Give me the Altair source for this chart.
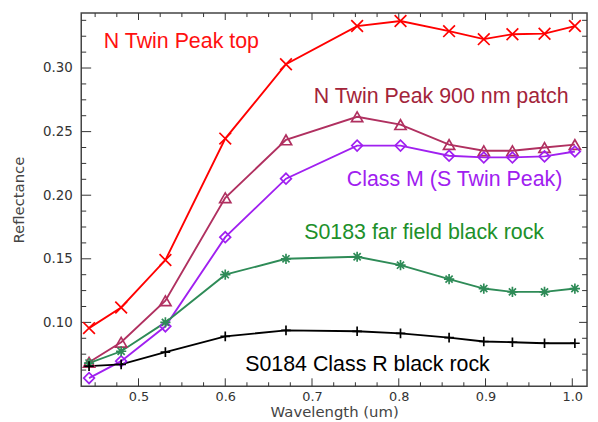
import altair as alt
import pandas as pd

# ---- data ----
wavelength = [0.443, 0.480, 0.531, 0.600, 0.670, 0.752, 0.802, 0.858, 0.898, 0.931, 0.968, 1.003]
n_top   = [0.0955, 0.1117, 0.1490, 0.2445, 0.3030, 0.3330, 0.3370, 0.3290, 0.3227, 0.3266, 0.3270, 0.3330]
patch   = [0.0687, 0.0844, 0.1170, 0.1980, 0.2435, 0.2617, 0.2555, 0.2398, 0.2350, 0.2350, 0.2375, 0.2398]
class_m = [0.0562, 0.0695, 0.0969, 0.1670, 0.2130, 0.2390, 0.2390, 0.2310, 0.2297, 0.2297, 0.2305, 0.2344]
s0183   = [0.0680, 0.0773, 0.1000, 0.1375, 0.1500, 0.1516, 0.1450, 0.1340, 0.1266, 0.1240, 0.1240, 0.1266]
s0184   = [0.0656, 0.0670, 0.0766, 0.0890, 0.0937, 0.0930, 0.0914, 0.0880, 0.0850, 0.0844, 0.0836, 0.0836]

series = ["N Twin Peak top", "N Twin Peak 900 nm patch", "Class M (S Twin Peak)",
          "S0183 far field black rock", "S0184 Class R black rock"]

# annotation anchor points (data coordinates)
label_x = [0.460, 0.702, 0.740, 0.691, 0.623]
label_y = [0.3160, 0.2724, 0.2070, 0.1658, 0.0615]

x_major = [0.5, 0.6, 0.7, 0.8, 0.9, 1.0]
x_minor = [0.45, 0.475, 0.525, 0.55, 0.575, 0.625, 0.65, 0.675, 0.725, 0.75, 0.775,
           0.825, 0.85, 0.875, 0.925, 0.95, 0.975]
y_major = [0.10, 0.15, 0.20, 0.25, 0.30]
y_minor = [0.0625, 0.075, 0.0875, 0.1125, 0.125, 0.1375, 0.1625, 0.175, 0.1875,
           0.2125, 0.225, 0.2375, 0.2625, 0.275, 0.2875, 0.3125, 0.325, 0.3375]

x_domain = [0.434, 1.017]
y_domain = [0.0498, 0.3432]

rows = []
for name, vals in zip(series, [n_top, patch, class_m, s0183, s0184]):
    for w, v in zip(wavelength, vals):
        rows.append({"series": name, "wl": w, "refl": v})
df = pd.DataFrame(rows)

# ---- styles ----
line_colors = ["#ff0000", "#b03060", "#a020f0", "#2e8b57", "#000000"]
text_colors = ["#ff1010", "#a3243a", "#a020f0", "#20902a", "#000000"]
x_path = "M-1,-1L1,1M-1,1L1,-1"
star_path = "M-1,0L1,0M0,-1L0,1M-0.7,-0.7L0.7,0.7M-0.7,0.7L0.7,-0.7"
plus_path = "M-1,0L1,0M0,-1L0,1"
shapes = [x_path, "triangle-up", "diamond", star_path, plus_path]
sizes = [140, 95, 85, 105, 170]

W, H = 511, 377
xscale = alt.Scale(domain=x_domain, nice=False, zero=False)
yscale = alt.Scale(domain=y_domain, nice=False, zero=False)
color = alt.Color("series:N", scale=alt.Scale(domain=series, range=line_colors), legend=None)

lab_font = "DejaVu Sans"

lines = alt.Chart(df).mark_line(strokeWidth=1.9).encode(
    x=alt.X("wl:Q", scale=xscale,
            axis=alt.Axis(orient="bottom", values=x_major, format=".1f", ticks=False,
                          domain=False, grid=False, labelPadding=4, labelFont=lab_font,
                          labelFontSize=13, labelColor="#333", title="Wavelength (um)",
                          titleFont=lab_font, titleFontSize=15, titleFontWeight="normal",
                          titleColor="#444", titleY=31, titleBaseline="alphabetic")),
    y=alt.Y("refl:Q", scale=yscale,
            axis=alt.Axis(orient="left", values=y_major, format=".2f", ticks=False,
                          domain=False, grid=False, labelPadding=9, labelFont=lab_font,
                          labelFontSize=13.5, labelColor="#333", title="Reflectance",
                          titleFont=lab_font, titleFontSize=15, titleFontWeight="normal",
                          titleColor="#444", titleX=-58, titleY=H / 2,
                          titleBaseline="alphabetic", titleAlign="center")),
    color=color,
)

points = alt.Chart(df).mark_point(filled=False, strokeWidth=1.7, opacity=1).encode(
    x=alt.X("wl:Q", scale=xscale, axis=None),
    y=alt.Y("refl:Q", scale=yscale, axis=None),
    color=color,
    shape=alt.Shape("series:N", scale=alt.Scale(domain=series, range=shapes), legend=None),
    size=alt.Size("series:O", scale=alt.Scale(domain=series, range=sizes), legend=None),
)

texts = []
for name, lx, ly, tc in zip(series, label_x, label_y, text_colors):
    tdf = pd.DataFrame({"x": [lx], "y": [ly], "label": [name]})
    texts.append(
        alt.Chart(tdf).mark_text(align="left", baseline="alphabetic", font="Liberation Sans",
                                 fontSize=21.6, color=tc).encode(
            x=alt.X("x:Q", scale=xscale, axis=None),
            y=alt.Y("y:Q", scale=yscale, axis=None),
            text="label:N",
        )
    )

# inward-pointing axis ticks on all four sides, drawn through the scales
x_per_px = (x_domain[1] - x_domain[0]) / W
y_per_px = (y_domain[1] - y_domain[0]) / H


def xticks(vals, edge, length_px, sign):
    return alt.Chart(pd.DataFrame({"v": vals})).mark_rule(color="#333", strokeWidth=1).encode(
        x=alt.X("v:Q", scale=xscale, axis=None),
        y=alt.Y(datum=edge, scale=yscale, axis=None),
        y2=alt.Y2(datum=edge + sign * length_px * y_per_px),
    )


def yticks(vals, edge, length_px, sign):
    return alt.Chart(pd.DataFrame({"v": vals})).mark_rule(color="#333", strokeWidth=1).encode(
        y=alt.Y("v:Q", scale=yscale, axis=None),
        x=alt.X(datum=edge, scale=xscale, axis=None),
        x2=alt.X2(datum=edge + sign * length_px * x_per_px),
    )


tick_layers = [
    xticks(x_major, y_domain[0], 8, 1), xticks(x_minor, y_domain[0], 4, 1),
    xticks(x_major, y_domain[1], 7, -1), xticks(x_minor, y_domain[1], 4, -1),
    yticks(y_major, x_domain[0], 10, 1), yticks(y_minor, x_domain[0], 5, 1),
    yticks(y_major, x_domain[1], 8, -1), yticks(y_minor, x_domain[1], 5, -1),
]

chart = alt.layer(
    lines, *tick_layers, points, *texts
).resolve_axis(
    x="independent", y="independent"
).properties(
    width=W, height=H,
    padding={"left": 74, "top": 3, "right": 3, "bottom": 34},
    autosize=alt.AutoSizeParams(type="none"),
    background="white",
).configure_view(stroke="#444", strokeWidth=1.5)

chart.save("out.html", embed_options={"renderer": "svg", "actions": False})
